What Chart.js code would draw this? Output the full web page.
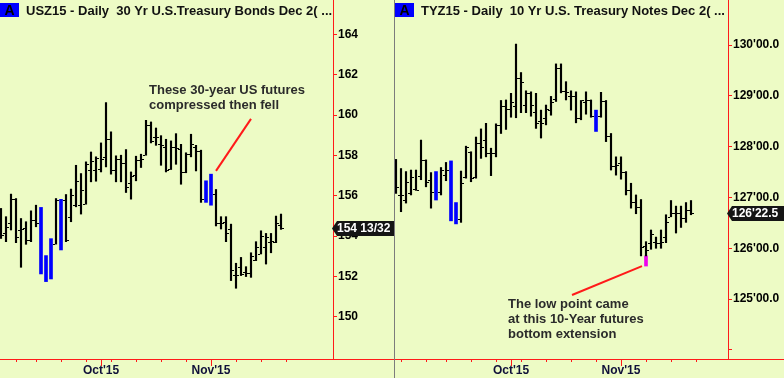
<!DOCTYPE html>
<html>
<head>
<title>USZ15 / TYZ15 Daily</title>
<script src="https://cdn.jsdelivr.net/npm/chart.js"></script>
<style>
    body {
        margin: 0;
        background: #edfbc5;
        width: 784px;
        height: 378px;
        overflow: hidden;
        font-family: Arial, "Liberation Sans", sans-serif;
    }
    .panel { position: absolute; top: 0; height: 378px; }
    #bondsPanel { left: 0; width: 394px; }
    #notesPanel { left: 394px; width: 390px; border-left: 1px solid #7c7c7c; box-sizing: border-box; }
    .title {
        position: absolute;
        top: 3px;
        left: 0;
        font-size: 13px;
        line-height: 14px;
        font-weight: bold;
        color: #111;
        white-space: nowrap;
    }
    .tag {
        display: inline-block;
        width: 19px;
        height: 14px;
        margin-right: 7px;
        background: #0000ff;
        color: #000;
        text-align: center;
        font-size: 14px;
    }
    canvas { position: absolute; top: 0; left: 0; }
</style>
</head>
<body>
<div class="panel" id="bondsPanel">
    <canvas id="bondsChart" width="394" height="378"></canvas>
    <div class="title"><span class="tag">A</span>USZ15 - Daily&nbsp; 30 Yr U.S.Treasury Bonds Dec 2( ...</div>
</div>
<div class="panel" id="notesPanel">
    <canvas id="notesChart" width="389" height="378"></canvas>
    <div class="title"><span class="tag">A</span>TYZ15 - Daily&nbsp; 10 Yr U.S. Treasury Notes Dec 2( ...</div>
</div>

<script>
// ---- 30 Yr bonds (USZ15), one bar per trading day, Sep 2 .. Nov 20 2015
const bondHigh = [155.37,154.96,156.08,155.86,154.87,154.71,155.25,155.53,155.42,153.03,
    153.87,155.86,155.82,156.06,156.33,157.51,157.10,157.68,158.17,157.93,
    158.62,160.62,159.17,157.98,158.01,158.29,157.18,157.96,158.06,159.74,
    159.66,159.36,158.98,158.80,158.72,159.08,158.55,158.13,159.05,158.50,
    158.26,156.74,157.07,156.31,154.96,154.96,154.59,152.65,152.94,152.48,
    153.17,153.72,154.26,154.13,154.13,154.99,155.09];
const bondLow = [153.88,153.72,154.30,153.67,152.45,153.59,153.72,154.46,152.12,151.74,
    151.87,153.60,153.31,153.72,154.71,155.45,155.09,155.58,156.69,156.72,
    157.18,157.43,157.07,156.69,156.69,156.16,155.83,156.74,157.40,158.01,
    158.62,158.50,157.51,157.18,157.30,157.56,156.57,157.14,157.93,157.23,
    155.67,155.67,155.53,154.50,154.35,153.72,151.79,151.41,152.04,151.99,
    151.95,152.78,153.11,152.61,153.17,153.67,154.33];
const bondOpen = [155.01,154.13,154.63,155.83,154.30,154.38,153.80,154.79,null,null,
    null,153.60,null,155.78,154.96,155.53,155.53,155.58,157.27,157.27,
    157.32,157.93,158.79,157.27,157.80,157.63,156.64,157.02,157.76,158.04,
    159.53,158.92,158.59,158.42,157.35,158.42,158.34,157.18,158.06,158.42,
    158.22,null,null,156.08,154.63,154.71,154.33,152.07,152.48,152.23,
    152.15,152.81,153.11,153.47,153.72,153.72,154.54];
const bondClose = [154.05,154.46,155.83,153.97,154.33,153.80,154.79,154.66,null,null,
    null,155.78,null,153.80,156.03,156.72,156.28,157.56,157.73,157.89,
    157.80,158.79,157.27,157.80,157.63,156.41,156.97,157.76,157.84,159.53,
    158.72,158.92,158.50,157.27,158.42,158.39,157.18,158.06,158.55,158.22,
    155.86,null,null,154.63,154.66,154.17,152.32,152.07,152.12,152.15,
    153.03,153.47,154.02,153.97,153.77,154.63,154.40625];
const bondBlue = [8, 9, 10, 12, 41, 42];
const bondWeeks = [3, 7, 12, 17, 22, 27, 32, 37, 47, 52, 57];
const bondMonths = [[20, "Oct'15"], [42, "Nov'15"]];
const bondPriceTicks = [150, 152, 154, 156, 158, 160, 162, 164];

// ---- 10 Yr notes (TYZ15), Aug 27 .. Nov 20 2015
const noteHigh = [127.75,127.57,127.51,127.54,127.54,128.13,127.74,127.49,127.51,127.59,
    127.69,127.72,126.90,127.52,128.01,127.90,128.19,128.35,128.46,127.97,
    128.45,128.91,128.92,129.05,130.02,129.46,129.10,129.08,129.05,128.72,
    128.82,128.99,129.63,129.63,129.28,129.10,129.08,128.91,129.08,128.92,
    128.72,129.07,128.91,128.26,127.80,127.80,127.51,127.28,127.05,126.96,
    126.13,126.36,126.22,126.36,126.66,126.94,126.83,126.83,126.90,126.94];
const noteLow = [127.08,126.72,126.89,127.05,127.14,127.35,127.21,126.79,126.95,127.05,
    127.33,126.54,126.48,126.51,127.38,127.31,127.38,127.77,127.80,127.43,
    127.80,128.26,128.34,128.58,128.57,128.67,128.67,128.60,128.36,128.17,
    128.43,128.62,128.89,129.06,128.92,128.72,128.47,128.53,128.64,128.58,
    128.30,128.58,128.10,127.54,127.44,127.36,127.05,126.79,126.68,125.85,
    125.85,125.98,126.00,126.00,126.11,126.62,126.30,126.41,126.51,126.66];
const noteOpen = [127.25,127.05,126.95,127.08,127.16,127.43,127.74,127.35,null,127.10,
    127.44,null,null,126.57,127.41,127.90,127.41,128.07,128.13,127.88,
    127.87,128.43,128.80,128.75,128.80,129.35,128.82,129.05,128.69,128.51,
    128.56,128.72,128.94,129.54,129.10,128.99,128.99,128.56,128.87,128.91,
    null,128.61,128.89,128.21,127.61,127.67,127.51,127.15,126.92,126.82,
    126.05,126.10,126.13,126.10,126.22,126.62,126.70,126.69,126.59,126.75];
const noteClose = [127.21,127.05,127.31,127.41,127.15,127.74,127.31,127.10,null,127.54,
    127.54,null,null,127.28,127.99,127.38,128.07,128.00,127.88,127.87,
    128.43,128.80,128.75,128.87,129.35,129.28,129.05,128.82,128.47,128.47,
    128.74,128.87,129.54,129.10,129.08,128.99,128.56,128.91,128.91,128.61,
    null,128.89,128.21,127.61,127.64,127.51,127.15,126.92,126.82,126.03,
    125.97,126.28,126.10,126.13,126.52,126.70,126.69,126.59,126.75,126.703125];
const noteBlue = [8, 11, 12, 40];
const noteExtension = [50, 125.85, 125.65];   // bar index, from, to
const noteWeeks = [1, 6, 10, 15, 20, 25, 30, 35, 40, 50, 55, 60];
const noteMonths = [[23, "Oct'15"], [45, "Nov'15"]];
const notePriceTicks = [124, 125, 126, 127, 128, 129, 130];

// notes drawn on the charts: text lines at [index, price], red pointer [i1, p1, i2, p2]
const bondNote = { at: [29.6, 161.24], lines: ['These 30-year US futures', 'compressed then fell'], step: 0.75, arrow: [43, 157.23, 50, 159.81] };
const noteNote = { at: [22.4, 124.90], lines: ['The low point came', 'at this 10-Year futures', 'bottom extension'], step: 0.295, arrow: [35.2, 125.08, 49.2, 125.65] };

const RED = '#ff1a1a';

const chartDecor = {
    id: 'chartDecor',
    afterDatasetsDraw(chart, args, o) {
        const { ctx, scales: { x, y } } = chart;
        ctx.save();
        ctx.fillStyle = '#000';
        o.open.forEach((v, i) => {
            if (v === null) return;
            const px = Math.round(x.getPixelForValue(i));
            ctx.fillRect(px - 3, Math.round(y.getPixelForValue(v)), 2, 1);
            ctx.fillRect(px + 1, Math.round(y.getPixelForValue(o.close[i])), 2, 1);
        });
        ctx.restore();
    },
    afterDraw(chart, args, o) {
        const { ctx, chartArea, scales: { x, y } } = chart;
        ctx.save();
        // axis base line runs the full panel width
        ctx.fillStyle = RED;
        ctx.fillRect(0, Math.round(chartArea.bottom), chart.width, 1);
        // month ticks are longer
        o.months.forEach(([i]) => {
            ctx.fillRect(Math.round(x.getPixelForValue(i)), Math.round(chartArea.bottom), 1, 7);
        });

        // annotation
        const n = o.note;
        ctx.strokeStyle = RED;
        ctx.lineWidth = 2;
        ctx.beginPath();
        ctx.moveTo(x.getPixelForValue(n.arrow[0]), y.getPixelForValue(n.arrow[1]));
        ctx.lineTo(x.getPixelForValue(n.arrow[2]), y.getPixelForValue(n.arrow[3]));
        ctx.stroke();
        ctx.fillStyle = '#2b2b2b';
        ctx.font = 'bold 13px Arial, "Liberation Sans", sans-serif';
        ctx.textBaseline = 'middle';
        n.lines.forEach((t, k) => {
            ctx.fillText(t, x.getPixelForValue(n.at[0]), y.getPixelForValue(n.at[1] - k * n.step));
        });

        // last price flag
        const last = o.close[o.close.length - 1];
        const py = Math.round(y.getPixelForValue(last)) + 0.5;
        const x0 = chartArea.right - 1;
        ctx.fillStyle = '#151515';
        ctx.beginPath();
        ctx.moveTo(x0, py);
        ctx.lineTo(x0 + 5, py - 7.5);
        ctx.lineTo(chart.width + 5, py - 7.5);
        ctx.lineTo(chart.width + 5, py + 7.5);
        ctx.lineTo(x0 + 5, py + 7.5);
        ctx.closePath();
        ctx.fill();
        ctx.fillStyle = '#fff';
        ctx.font = 'bold 12px Arial, "Liberation Sans", sans-serif';
        ctx.fillText(o.flag(last), x0 + 5, py + 0.5);
        ctx.restore();
    }
};

function bars(high, low, keep) {
    return high.map((h, i) => ({ x: i, y: [low[i], h] })).filter(d => keep(d.x));
}

function makeChart(id, d) {
    const datasets = [
        {
            data: bars(d.high, d.low, i => !d.blue.includes(i)),
            backgroundColor: '#000',
            barThickness: 1.5
        },
        {
            data: bars(d.high, d.low, i => d.blue.includes(i)),
            backgroundColor: '#0000ff',
            barThickness: 3
        }
    ];
    if (d.ext) {
        datasets.push({
            data: [{ x: d.ext[0], y: [d.ext[2], d.ext[1]] }],
            backgroundColor: '#ee00ee',
            barThickness: 3
        });
    }
    datasets.forEach(ds => { ds.grouped = false; ds.borderWidth = 0; });

    new Chart(document.getElementById(id), {
        type: 'bar',
        data: { datasets },
        plugins: [chartDecor],
        options: {
            responsive: false,
            animation: false,
            events: [],
            layout: { padding: 0 },
            plugins: {
                legend: { display: false },
                tooltip: { enabled: false },
                chartDecor: { open: d.open, close: d.close, months: d.months, note: d.note, flag: d.flag }
            },
            scales: {
                x: {
                    type: 'linear',
                    offset: false,
                    min: -0.2,
                    max: -0.2 + 333 / 5,
                    afterBuildTicks: s => { s.ticks = d.weeks.concat(d.months.map(m => m[0])).sort((a, b) => a - b).map(v => ({ value: v })); },
                    afterFit: s => { s.height = 19; s.paddingLeft = 0; s.paddingRight = 0; },
                    grid: { drawOnChartArea: false, offset: false, color: RED, tickLength: 3 },
                    border: { color: RED },
                    ticks: {
                        autoSkip: false,
                        maxRotation: 0,
                        padding: 1,
                        color: '#10103a',
                        font: { family: 'Arial, "Liberation Sans", sans-serif', size: 12, weight: 'bold' },
                        callback: v => { const m = d.months.find(mm => mm[0] === v); return m ? m[1] : ''; }
                    }
                },
                y: {
                    position: 'right',
                    min: d.yMin,
                    max: d.yMax,
                    afterBuildTicks: s => { s.ticks = d.priceTicks.map(v => ({ value: v })); },
                    afterFit: s => { s.width = d.axisWidth; s.paddingTop = 0; s.paddingBottom = 0; },
                    grid: { drawOnChartArea: false, color: RED, tickLength: 4 },
                    border: { color: RED },
                    ticks: {
                        padding: 1,
                        color: '#000',
                        font: { family: 'Arial, "Liberation Sans", sans-serif', size: 12, weight: 'bold' },
                        callback: d.yLabel
                    }
                }
            }
        }
    });
}

makeChart('bondsChart', {
    high: bondHigh, low: bondLow, open: bondOpen, close: bondClose,
    blue: bondBlue, weeks: bondWeeks, months: bondMonths, priceTicks: bondPriceTicks,
    yMin: 147.90, yMax: 165.71, axisWidth: 61, note: bondNote,
    yLabel: v => String(v),
    flag: c => Math.floor(c) + ' ' + Math.round((c % 1) * 32) + '/32'
});

makeChart('notesChart', {
    high: noteHigh, low: noteLow, open: noteOpen, close: noteClose,
    blue: noteBlue, ext: noteExtension, weeks: noteWeeks, months: noteMonths, priceTicks: notePriceTicks,
    yMin: 123.82, yMax: 130.888, axisWidth: 56, note: noteNote,
    yLabel: v => (v === 124 ? '' : v + "'00.0"),
    flag: c => Math.floor(c) + "'" + ((c % 1) * 32).toFixed(1)
});
</script>
</body>
</html>
